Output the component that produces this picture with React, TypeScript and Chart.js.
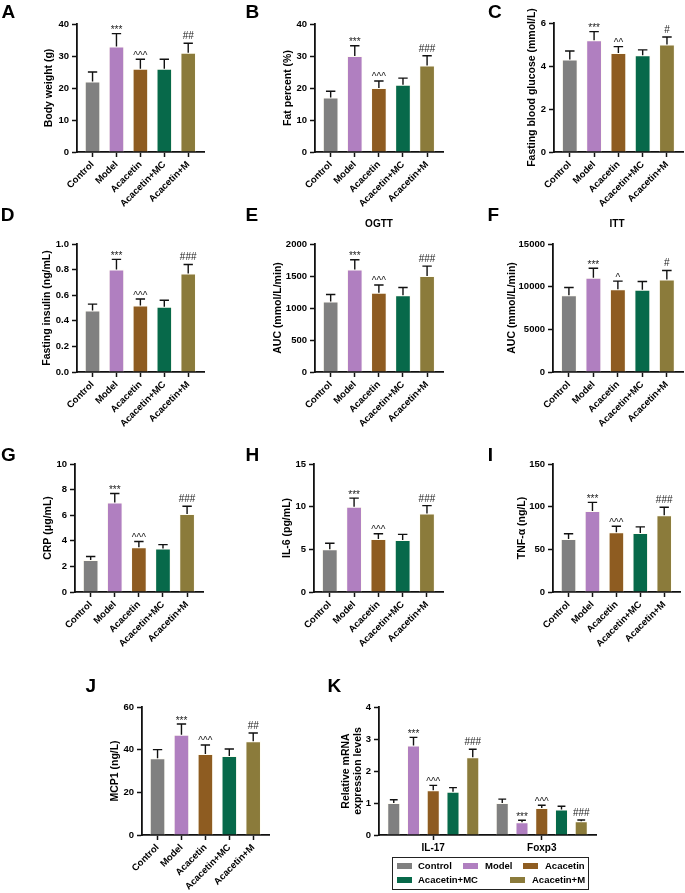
import React, { useEffect, useRef } from 'react';
import { Chart, registerables } from 'chart.js';

Chart.register(...registerables);

const FONT = "'Liberation Sans', Arial, Helvetica, sans-serif";

const groups = ['Control', 'Model', 'Acacetin', 'Acacetin+MC', 'Acacetin+M'];
const groupColors = ['#808080', '#b07fc0', '#8e5c21', '#07694a', '#8b7b3b'];
const genes = ['IL-17', 'Foxp3'];

const bodyWeight = [22, 33, 26, 26, 31];
const bodyWeightSD = [3, 4, 3, 3, 3];
const bodyWeightMarks = ['', '***', '^^^', '', '##'];

const fatPercent = [17, 30, 20, 21, 27];
const fatPercentSD = [2, 3.2, 2.2, 2.1, 3.1];
const fatPercentMarks = ['', '***', '^^^', '', '###'];

const glucose = [4.3, 5.2, 4.6, 4.5, 5.0];
const glucoseSD = [0.4, 0.4, 0.3, 0.25, 0.35];
const glucoseMarks = ['', '***', '^^', '', '#'];

const insulin = [0.48, 0.8, 0.52, 0.51, 0.77];
const insulinSD = [0.05, 0.08, 0.05, 0.05, 0.07];
const insulinMarks = ['', '***', '^^^', '', '###'];

const ogttAUC = [1100, 1600, 1240, 1200, 1500];
const ogttSD = [110, 155, 120, 120, 155];
const ogttMarks = ['', '***', '^^^', '', '###'];

const ittAUC = [9000, 11050, 9700, 9650, 10850];
const ittSD = [900, 1100, 950, 950, 1050];
const ittMarks = ['', '***', '^', '', '#'];

const crp = [2.5, 7.0, 3.5, 3.4, 6.1];
const crpSD = [0.27, 0.7, 0.45, 0.3, 0.6];
const crpMarks = ['', '***', '^^^', '', '###'];

const il6 = [5.0, 10.0, 6.2, 6.1, 9.2];
const il6SD = [0.72, 1.0, 0.63, 0.65, 0.92];
const il6Marks = ['', '***', '^^^', '', '###'];

const tnf = [62, 95, 70, 69, 90];
const tnfSD = [6.3, 10, 7, 7.3, 9.4];
const tnfMarks = ['', '***', '^^^', '', '###'];

const mcp1 = [36, 47, 38, 37, 44];
const mcp1SD = [4, 5, 4.2, 3.3, 3.8];
const mcp1Marks = ['', '***', '^^^', '', '##'];

const il17Expr = [1.0, 2.8, 1.4, 1.35, 2.43];
const il17SD = [0.1, 0.25, 0.15, 0.13, 0.25];
const il17Marks = ['', '***', '^^^', '', '###'];

const foxp3Expr = [1.0, 0.4, 0.84, 0.8, 0.43];
const foxp3SD = [0.12, 0.06, 0.09, 0.1, 0.04];
const foxp3Marks = ['', '***', '^^^', '', '###'];

type Box = { left: number; top: number; w: number; h: number };
type Area = { l: number; t: number; r: number; b: number };

function errorPlugin(sds: number[][], marks: string[][]) {
  return {
    id: 'errorBars',
    afterDatasetsDraw(chart: any) {
      const ctx = chart.ctx;
      const ys = chart.scales.y;
      chart.data.datasets.forEach((ds: any, di: number) => {
        const meta = chart.getDatasetMeta(di);
        meta.data.forEach((bar: any, i: number) => {
          const raw = ds.data[i];
          const v = typeof raw === 'number' ? raw : raw.y;
          const topPx = ys.getPixelForValue(v + sds[di][i]);
          const x = bar.x;
          const base = bar.y;
          const cap = Math.max(3.5, bar.width * 0.3);
          ctx.save();
          ctx.strokeStyle = '#111';
          ctx.lineWidth = 1.4;
          ctx.beginPath();
          ctx.moveTo(x, base);
          ctx.lineTo(x, topPx);
          ctx.moveTo(x - cap, topPx);
          ctx.lineTo(x + cap, topPx);
          ctx.stroke();
          const m = marks[di][i];
          if (m) {
            ctx.fillStyle = '#222';
            ctx.font = `10px ${FONT}`;
            ctx.textAlign = 'center';
            ctx.textBaseline = 'alphabetic';
            const off = m[0] === '#' ? 4 : 0.5;
            ctx.fillText(m, x, topPx - off);
          }
          ctx.restore();
        });
      });
    },
  };
}

const TITLE_SIZE = 10.5;
const TITLE_LH = 1.2;

function axisCommon() {
  return {
    grid: { drawOnChartArea: false, drawTicks: true, tickLength: 5, tickColor: '#111', tickWidth: 1.5, offset: false },
    border: { display: true, color: '#111', width: 1.8 },
  };
}

function layoutFor(box: Box, area: Area, titleX: number, lh: number) {
  const padL = titleX - box.left - lh / 2;
  return {
    padding: { left: padL, top: area.t - box.top, right: box.left + box.w - area.r, bottom: 0 },
    yWidth: area.l - box.left - padL,
    xHeight: box.top + box.h - area.b,
  };
}

type Panel = {
  box: Box; area: Area; titleX: number; yTitle: string;
  yMax: number; yStep: number; dec: number;
  values: number[]; sd: number[]; marks: string[];
};

function buildBarPanel(p: Panel) {
  const lh = TITLE_SIZE * TITLE_LH;
  const L = layoutFor(p.box, p.area, p.titleX, lh);
  return {
    type: 'bar',
    data: {
      datasets: [{
        data: p.values.map((v, i) => ({ x: i, y: v })),
        backgroundColor: groupColors,
        borderColor: 'rgba(255,252,240,0.75)',
        borderWidth: 1,
        barPercentage: 0.65,
        categoryPercentage: 1,
      }],
    },
    options: {
      responsive: false,
      animation: false,
      events: [],
      layout: { padding: L.padding },
      plugins: { legend: { display: false }, tooltip: { enabled: false } },
      scales: {
        x: {
          type: 'linear',
          min: -0.65,
          max: 4.66,
          offset: false,
          afterBuildTicks: (s: any) => { s.ticks = groups.map((_, i) => ({ value: i })); },
          afterFit: (s: any) => { s.height = L.xHeight; },
          ticks: {
            autoSkip: false, minRotation: 45, maxRotation: 45, padding: 2, color: '#000',
            font: { family: FONT, size: 9.5, weight: 'bold' },
            callback: (v: any) => groups[Math.round(Number(v))] ?? '',
          },
          ...axisCommon(),
        },
        y: {
          min: 0,
          max: p.yMax,
          afterFit: (s: any) => { s.width = L.yWidth; },
          ticks: {
            stepSize: p.yStep, padding: 3, color: '#000',
            font: { family: FONT, size: 9.5, weight: 'bold' },
            callback: (v: any) => Number(v).toFixed(p.dec),
          },
          title: {
            display: true, text: p.yTitle, color: '#000', padding: 0,
            font: { family: FONT, size: TITLE_SIZE, weight: 'bold', lineHeight: TITLE_LH },
          },
          ...axisCommon(),
        },
      },
    },
    plugins: [errorPlugin([p.sd], [p.marks])],
  };
}

const panels: Panel[] = [
  { box: { left: 0, top: 0, w: 220, h: 232 }, area: { l: 77, t: 24, r: 204, b: 152 }, titleX: 49, yTitle: 'Body weight (g)', yMax: 40, yStep: 10, dec: 0, values: bodyWeight, sd: bodyWeightSD, marks: bodyWeightMarks },
  { box: { left: 220, top: 0, w: 230, h: 232 }, area: { l: 315, t: 24, r: 443, b: 152 }, titleX: 288, yTitle: 'Fat percent (%)', yMax: 40, yStep: 10, dec: 0, values: fatPercent, sd: fatPercentSD, marks: fatPercentMarks },
  { box: { left: 450, top: 0, w: 235, h: 232 }, area: { l: 554, t: 23, r: 683, b: 152 }, titleX: 532, yTitle: 'Fasting blood glucose (mmol/L)', yMax: 6, yStep: 2, dec: 0, values: glucose, sd: glucoseSD, marks: glucoseMarks },
  { box: { left: 0, top: 200, w: 220, h: 232 }, area: { l: 77, t: 244, r: 204, b: 372 }, titleX: 47, yTitle: 'Fasting insulin (ng/mL)', yMax: 1, yStep: 0.2, dec: 1, values: insulin, sd: insulinSD, marks: insulinMarks },
  { box: { left: 220, top: 200, w: 230, h: 232 }, area: { l: 315, t: 244, r: 443, b: 372 }, titleX: 278, yTitle: 'AUC (mmol/L/min)', yMax: 2000, yStep: 500, dec: 0, values: ogttAUC, sd: ogttSD, marks: ogttMarks },
  { box: { left: 450, top: 200, w: 235, h: 232 }, area: { l: 553, t: 244, r: 683, b: 372 }, titleX: 512, yTitle: 'AUC (mmol/L/min)', yMax: 15000, yStep: 5000, dec: 0, values: ittAUC, sd: ittSD, marks: ittMarks },
  { box: { left: 0, top: 420, w: 220, h: 232 }, area: { l: 75, t: 464, r: 203, b: 592 }, titleX: 48, yTitle: 'CRP (μg/mL)', yMax: 10, yStep: 2, dec: 0, values: crp, sd: crpSD, marks: crpMarks },
  { box: { left: 220, top: 420, w: 230, h: 232 }, area: { l: 314, t: 464, r: 443, b: 592 }, titleX: 287, yTitle: 'IL-6 (pg/mL)', yMax: 15, yStep: 5, dec: 0, values: il6, sd: il6SD, marks: il6Marks },
  { box: { left: 450, top: 420, w: 235, h: 232 }, area: { l: 553, t: 464, r: 680, b: 592 }, titleX: 522, yTitle: 'TNF-α (ng/L)', yMax: 150, yStep: 50, dec: 0, values: tnf, sd: tnfSD, marks: tnfMarks },
  { box: { left: 60, top: 680, w: 225, h: 213 }, area: { l: 142, t: 707, r: 269, b: 835 }, titleX: 115, yTitle: 'MCP1 (ng/L)', yMax: 60, yStep: 20, dec: 0, values: mcp1, sd: mcp1SD, marks: mcp1Marks },
];

const kBox: Box = { left: 300, top: 680, w: 310, h: 180 };
const kArea: Area = { l: 379, t: 707, r: 596, b: 835 };

function buildK() {
  const lh = 10.5 * 1.1;
  const L = layoutFor(kBox, kArea, 352 - lh / 2, lh);
  return {
    type: 'bar',
    data: {
      labels: genes,
      datasets: groups.map((g, gi) => ({
        label: g,
        data: [il17Expr[gi], foxp3Expr[gi]],
        backgroundColor: groupColors[gi],
        borderColor: 'rgba(255,252,240,0.75)',
        borderWidth: 1,
        barPercentage: 0.66,
        categoryPercentage: 0.91,
      })),
    },
    options: {
      responsive: false,
      animation: false,
      events: [],
      layout: { padding: L.padding },
      plugins: { legend: { display: false }, tooltip: { enabled: false } },
      scales: {
        x: {
          afterFit: (s: any) => { s.height = L.xHeight; },
          ticks: { padding: 2, maxRotation: 0, color: '#000', font: { family: FONT, size: 10, weight: 'bold' } },
          ...axisCommon(),
        },
        y: {
          min: 0, max: 4,
          afterFit: (s: any) => { s.width = L.yWidth; },
          ticks: { stepSize: 1, padding: 3, color: '#000', font: { family: FONT, size: 9.5, weight: 'bold' } },
          title: {
            display: true, text: ['Relative mRNA', 'expression levels'], color: '#000', padding: 0,
            font: { family: FONT, size: 10.5, weight: 'bold', lineHeight: 1.1 },
          },
          ...axisCommon(),
        },
      },
    },
    plugins: [errorPlugin(
      groups.map((_, gi) => [il17SD[gi], foxp3SD[gi]]),
      groups.map((_, gi) => [il17Marks[gi], foxp3Marks[gi]]),
    )],
  };
}

function ChartCanvas({ box, build }: { box: Box; build: () => any }) {
  const ref = useRef<HTMLCanvasElement>(null);
  useEffect(() => {
    const chart = new Chart(ref.current as HTMLCanvasElement, build());
    return () => chart.destroy();
  }, []);
  return (
    <canvas
      ref={ref}
      width={box.w}
      height={box.h}
      style={{ position: 'absolute', left: box.left, top: box.top, width: box.w, height: box.h }}
    />
  );
}

const letters: [string, number, number][] = [
  ['A', 1.5, 1.5], ['B', 245.6, 1.5], ['C', 488, 1.5],
  ['D', 0.8, 204.5], ['E', 245.6, 204.5], ['F', 487.6, 204.5],
  ['G', 1, 444.5], ['H', 245.6, 444.5], ['I', 487.7, 444.5],
  ['J', 85.5, 675.5], ['K', 327.6, 675.5],
];

const legendItems: [string, number, number, number, number][] = [
  // label, swatchX, textX, rowCenterY, colorIndex
  ['Control', 397, 418, 866, 0],
  ['Model', 463, 485, 866, 1],
  ['Acacetin', 523, 545, 866, 2],
  ['Acacetin+MC', 397, 418, 880, 3],
  ['Acacetin+M', 510, 532, 880, 4],
];

export default function App() {
  Chart.defaults.font.family = FONT;
  return (
    <div style={{ position: 'absolute', left: 0, top: 0, width: 685, height: 893, overflow: 'hidden', background: '#fff', fontFamily: FONT }}>
      {panels.map((p, i) => (
        <ChartCanvas key={i} box={p.box} build={() => buildBarPanel(p)} />
      ))}
      <ChartCanvas box={kBox} build={buildK} />
      {letters.map(([t, x, y]) => (
        <div key={t} style={{ position: 'absolute', left: x, top: y, fontSize: 19, lineHeight: '19px', fontWeight: 'bold', color: '#000' }}>{t}</div>
      ))}
      {[['OGTT', 379], ['ITT', 617]].map(([t, cx]) => (
        <div key={t as string} style={{ position: 'absolute', left: (cx as number) - 50, width: 100, top: 218, textAlign: 'center', fontSize: 10, lineHeight: '12px', fontWeight: 'bold', color: '#000' }}>{t}</div>
      ))}
      <div style={{ position: 'absolute', left: 392, top: 857, width: 197, height: 33, boxSizing: 'border-box', border: '1.5px solid #222' }} />
      {legendItems.map(([t, sx, tx, cy, ci]) => (
        <React.Fragment key={t}>
          <div style={{ position: 'absolute', left: sx, top: cy - 3, width: 15, height: 6, background: groupColors[ci] }} />
          <div style={{ position: 'absolute', left: tx, top: cy - 6, fontSize: 9.5, lineHeight: '12px', fontWeight: 'bold', color: '#000', whiteSpace: 'nowrap' }}>{t}</div>
        </React.Fragment>
      ))}
    </div>
  );
}
